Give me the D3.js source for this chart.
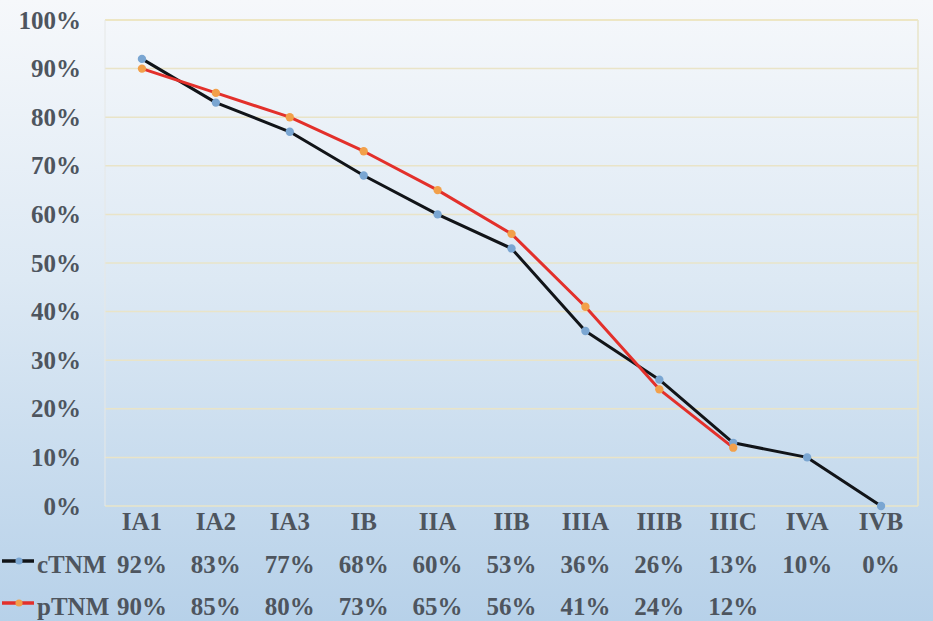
<!DOCTYPE html>
<html><head><meta charset="utf-8">
<script src="https://cdn.jsdelivr.net/npm/d3@7"></script>
<style>html,body{margin:0;padding:0;overflow:hidden;}svg{display:block;}
svg text{font-family:"Liberation Serif","Times New Roman",Tinos,serif;font-weight:bold;}</style>
</head><body>
<svg id="c" width="933" height="621"></svg>
<script>
const categories = ["IA1","IA2","IA3","IB","IIA","IIB","IIIA","IIIB","IIIC","IVA","IVB"];
const cTNM = [92,83,77,68,60,53,36,26,13,10,0];
const pTNM = [90,85,80,73,65,56,41,24,12,null,null];
const yTicks = [0,10,20,30,40,50,60,70,80,90,100];
const seriesNames = ["cTNM","pTNM"];

const W=933,H=621;
const M={left:105,right:15,top:20,bottom:115};
const svg=d3.select("#c");
const defs=svg.append("defs");
const g=defs.append("linearGradient").attr("id","bg").attr("x1",0).attr("y1",0).attr("x2",0).attr("y2",1);
g.append("stop").attr("offset","0%").attr("stop-color","#f6f8fb");
g.append("stop").attr("offset","45%").attr("stop-color","#dde9f4");
g.append("stop").attr("offset","100%").attr("stop-color","#b7d1e9");
svg.append("rect").attr("width",W).attr("height",H).attr("fill","url(#bg)");

const x=d3.scaleBand().domain(categories).range([M.left,W-M.right]);
const y=d3.scaleLinear().domain([0,100]).range([506,M.top]);
const cx=d=>x(d)+x.bandwidth()/2;

const txt="#4e555e";
const fs=25;

// gridlines
svg.append("g").selectAll("line").data(yTicks).join("line")
  .attr("x1",M.left).attr("x2",W-M.right)
  .attr("y1",d=>y(d)).attr("y2",d=>y(d))
  .attr("stroke",d=>d===100?"#ebe1b2":"#e9e4c8").attr("stroke-width",1.5);
svg.append("line").attr("x1",W-M.right).attr("x2",W-M.right).attr("y1",y(100)).attr("y2",y(0))
  .attr("stroke","#e9e4c8").attr("stroke-width",1.5);
svg.append("line").attr("x1",M.left).attr("x2",M.left).attr("y1",y(100)).attr("y2",y(0))
  .attr("stroke","#e6e8e6").attr("stroke-width",1);

// y axis
const ya=svg.append("g").attr("transform",`translate(${M.left},0)`)
  .call(d3.axisLeft(y).tickValues(yTicks).tickFormat(d=>d+"%").tickSize(0).tickPadding(24));
ya.select(".domain").remove();
ya.selectAll("text").attr("font-size",fs).attr("fill",txt).attr("font-family",null);

// x axis labels
const xa=svg.append("g").attr("transform",`translate(0,${y(0)})`)
  .call(d3.axisBottom(x).tickSize(0).tickPadding(6));
xa.select(".domain").remove();
xa.selectAll("text").attr("font-size",fs).attr("fill",txt).attr("font-family",null);

// lines
const line=d3.line().defined(d=>d.v!=null).x(d=>cx(d.c)).y(d=>y(d.v));
const toPts=arr=>categories.map((c,i)=>({c,v:arr[i]}));
const series=[
  {name:seriesNames[0],data:toPts(cTNM),stroke:"#111418",marker:"#7aa6d2"},
  {name:seriesNames[1],data:toPts(pTNM),stroke:"#e3302b",marker:"#f2a04a"}
];
series.forEach(s=>{
  svg.append("path").datum(s.data).attr("d",line).attr("fill","none")
    .attr("stroke",s.stroke).attr("stroke-width",3).attr("stroke-linejoin","round");
});
series.forEach(s=>{
  svg.append("g").selectAll("path").data(s.data.filter(d=>d.v!=null)).join("path")
    .attr("d",d3.symbol(d3.symbolCircle,55))
    .attr("transform",d=>`translate(${cx(d.c)},${y(d.v)})`)
    .attr("fill",s.marker);
});

// data table
const rowsY=[573,615];
series.forEach((s,i)=>{
  const ry=rowsY[i];
  svg.append("line").attr("x1",2).attr("x2",34).attr("y1",ry-12).attr("y2",ry-12)
    .attr("stroke",s.stroke).attr("stroke-width",3.5);
  svg.append("path").attr("d",d3.symbol(d3.symbolCircle,40)).attr("transform",`translate(19,${ry-12})`).attr("fill",s.marker);
  svg.append("text").attr("x",37).attr("y",ry).text(s.name)
    .attr("font-size",fs).attr("fill",txt);
  svg.append("g").selectAll("text").data(s.data.filter(d=>d.v!=null)).join("text")
    .attr("x",d=>cx(d.c)).attr("y",ry).attr("text-anchor","middle").text(d=>d.v+"%")
    .attr("font-size",fs).attr("fill",txt);
});
</script>
</body></html>
